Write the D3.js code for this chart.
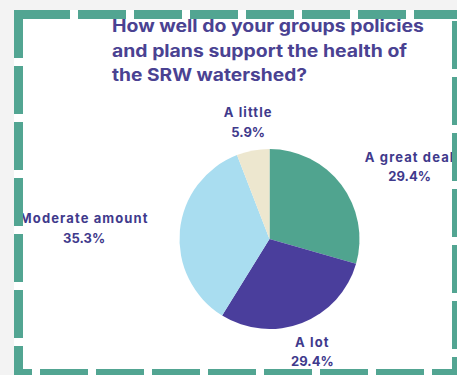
<!DOCTYPE html>
<html lang="en">
<head>
    <meta charset="UTF-8">
    <title>SRW watershed pie</title>
    <script src="https://d3js.org/d3.v7.min.js"></script>
    <style>
        body { margin: 0; background: #f3f3f3; }
        svg { display: block; }
        text { font-family: Inter, "Open Sans", sans-serif; font-weight: 700; }
        .cat { letter-spacing: 1.1px; }
    </style>
</head>
<body>
    <svg id="chart" width="457" height="375"></svg>

    <script>
        // survey answers (17 responses)
        const categories = ['A great deal', 'A lot', 'Moderate amount', 'A little'];
        const counts = [5, 5, 6, 1];
        const pctLabels = ['29.4%', '29.4%', '35.3%', '5.9%'];
        const colors = ['#50a48f', '#4a3e9c', '#a9ddf0', '#ede7cf'];
        const titleLines = [
            'How well do your groups policies',
            'and plans support the health of',
            'the SRW watershed?'
        ];

        const W = 457, H = 375;
        const svg = d3.select('#chart');

        // white card
        svg.append('rect')
            .attr('x', 14).attr('y', 10)
            .attr('width', W - 14).attr('height', H - 10)
            .attr('fill', '#ffffff');

        // title
        const titleWidths = [312, 295, 195];
        svg.append('g').selectAll('text')
            .data(titleLines)
            .enter().append('text')
            .attr('x', 112)
            .attr('y', (d, i) => 32 + i * 24.5)
            .attr('textLength', (d, i) => titleWidths[i])
            .attr('lengthAdjust', 'spacingAndGlyphs')
            .style('font-size', '17px')
            .attr('fill', '#4a4292')
            .text(d => d);

        // pie
        const cx = 269.5, cy = 239, r = 90;
        const pie = d3.pie().sort(null).value(d => d)(counts);
        const arc = d3.arc().innerRadius(0).outerRadius(r);

        svg.append('g')
            .attr('transform', `translate(${cx},${cy})`)
            .selectAll('path')
            .data(pie)
            .enter().append('path')
            .attr('d', arc)
            .attr('fill', (d, i) => colors[i]);

        // labels: anchored at an outer centroid, then nudged like the original
        const labelArc = d3.arc().innerRadius(r + 48).outerRadius(r + 48);
        const labelOffsets = [[30, 6], [-7, -21], [-48, -3], [4, 14]];
        const labels = svg.append('g')
            .attr('transform', `translate(${cx},${cy})`);

        pie.forEach((d, i) => {
            const c = labelArc.centroid(d);
            const x = c[0] + labelOffsets[i][0];
            const y = c[1] + labelOffsets[i][1];
            const t = labels.append('text')
                .attr('text-anchor', 'middle')
                .attr('fill', '#3f3a8c')
                .style('font-size', '13px');
            t.append('tspan').attr('class', 'cat').attr('x', x).attr('y', y).text(categories[i]);
            t.append('tspan').attr('x', x).attr('y', y + 19.5).text(pctLabels[i]);
        });

        // dashed teal frame, drawn last so it covers clipped labels
        const frame = svg.append('g')
            .attr('stroke', '#52a592')
            .attr('stroke-width', 9)
            .attr('stroke-dasharray', '48 8')
            .attr('fill', 'none');
        frame.append('line').attr('x1', 22).attr('x2', 470).attr('y1', 14.5).attr('y2', 14.5);
        frame.append('line').attr('x1', 18.5).attr('x2', 18.5).attr('y1', 10).attr('y2', 390);
        frame.append('line').attr('x1', 456.5).attr('x2', 456.5).attr('y1', 21).attr('y2', 390);
        frame.append('line').attr('x1', 14).attr('x2', 470).attr('y1', 373.5).attr('y2', 373.5)
            .attr('stroke-dashoffset', 30);
    </script>
</body>
</html>
